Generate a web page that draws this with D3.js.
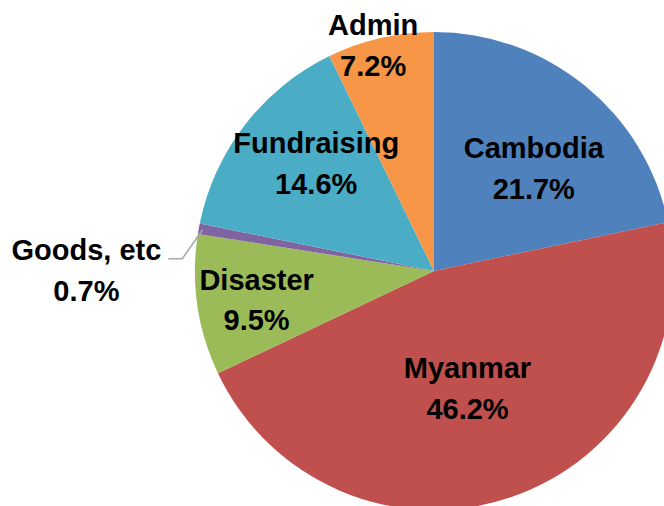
<!DOCTYPE html>
<html>
<head>
<meta charset="utf-8">
<script src="https://cdn.jsdelivr.net/npm/d3@7"></script>
<style>
  html, body { margin: 0; padding: 0; background: #fff; }
  svg { display: block; }
</style>
</head>
<body>
<svg id="chart"></svg>
<script>
// slice data, clockwise from 12 o'clock
const categories = ["Cambodia", "Myanmar", "Disaster", "Goods, etc", "Fundraising", "Admin"];
const shares = [21.7, 46.2, 9.5, 0.7, 14.6, 7.2];
const percentLabels = ["21.7%", "46.2%", "9.5%", "0.7%", "14.6%", "7.2%"];
const sliceColors = ["#4F81BD", "#C0504D", "#9BBB59", "#8064A2", "#4BACC6", "#F79646"];

let layout = {"width": 664,
              "height": 506,
              "cx": 434,
              "cy": 271,
              "radius": 239,
              "lineGap": 41,
              "fontSize": 29};

// label placement: angle shift (deg) from slice middle, distance as fraction of radius
const labelPlace = [[8, 0.57], [3.8, 0.55], [-4.2, 0.76], [-11.7, 1.455], [1.9, 0.64], [-2.8, 0.937]];

const svg = d3.select("#chart")
    .attr("width", layout.width)
    .attr("height", layout.height);

const pieData = d3.pie()
    .sort(null)
    .startAngle(0)
    .value(d => d)(shares);

const arc = d3.arc()
    .innerRadius(0)
    .outerRadius(layout.radius);

const g = svg.append("g")
    .attr("transform", `translate(${layout.cx}, ${layout.cy})`);

g.selectAll(".slice")
    .data(pieData)
    .join("path")
    .attr("class", "slice")
    .attr("d", arc)
    .attr("fill", (d, i) => sliceColors[i]);

const polar = (ang, r) => [r * Math.sin(ang), -r * Math.cos(ang)];

const labels = g.selectAll(".label")
    .data(pieData)
    .join("text")
    .attr("class", "label")
    .attr("text-anchor", "middle")
    .attr("font-family", "'Liberation Sans', Arial, sans-serif")
    .attr("font-weight", "bold")
    .attr("font-size", layout.fontSize)
    .attr("fill", "#000")
    .each(function(d, i) {
        let mid = (d.startAngle + d.endAngle) / 2 + labelPlace[i][0] * Math.PI / 180;
        let [x, y] = polar(mid, labelPlace[i][1] * layout.radius);
        let t = d3.select(this);
        t.append("tspan").attr("x", x).attr("y", y - layout.lineGap / 2).text(categories[i]);
        t.append("tspan").attr("x", x).attr("y", y + layout.lineGap / 2).text(percentLabels[i]);
    });

// leader line for the small slice
const small = 3;
const sd = pieData[small];
const sMid = (sd.startAngle + sd.endAngle) / 2;
const p0 = polar(sMid, layout.radius - 4);
const firstLine = labels.filter((d, i) => i === small).select("tspan").node();
const box = firstLine.getBBox();
const yLead = +d3.select(firstLine).attr("y") - 1;
const endX = box.x + box.width + 7;
g.append("polyline")
    .attr("points", [p0, [endX + 14, yLead], [endX, yLead]].map(p => p.join(",")).join(" "))
    .attr("fill", "none")
    .attr("stroke", "#A6A6A6")
    .attr("stroke-width", 1.5);
</script>
</body>
</html>
